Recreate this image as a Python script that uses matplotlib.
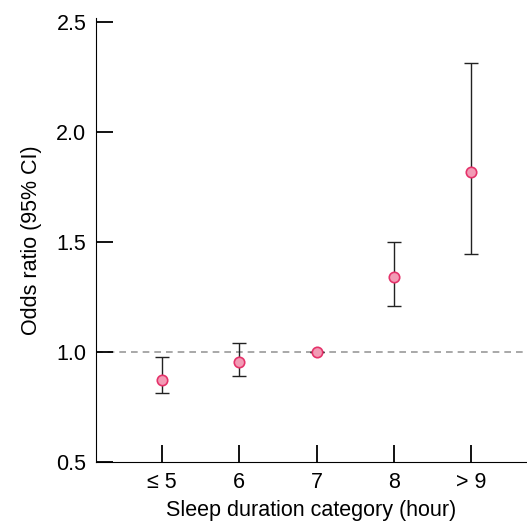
import numpy as np
import matplotlib.pyplot as plt

plt.rcParams['font.family'] = ['Liberation Sans', 'DejaVu Sans']

categories = ["≤ 5", "6", "7", "8", "> 9"]
odds = [0.875, 0.955, 1.0, 1.342, 1.818]
ci_low = [0.812, 0.891, 1.0, 1.208, 1.447]
ci_high = [0.978, 1.043, 1.0, 1.500, 2.317]

x = np.arange(1, len(categories) + 1)
odds = np.array(odds)
yerr = [odds - np.array(ci_low), np.array(ci_high) - odds]

fig = plt.figure(figsize=(5.27, 5.21), dpi=100)
ax = fig.add_axes([96 / 527, 59 / 521, 431 / 527, 444 / 521])

ax.axhline(1.0, color="#999999", linestyle=(0, (4, 3)), linewidth=1.2, zorder=1)
ax.errorbar(x, odds, yerr=yerr, fmt="none", ecolor="#222222", elinewidth=1,
            capsize=5, capthick=1, zorder=2)
ax.plot(x, odds, "o", markersize=7.5, markerfacecolor="#F29BB5",
        markeredgecolor="#E5336B", markeredgewidth=1.2, zorder=3)

ax.set_xlim(0.15, 5.72)
ax.set_ylim(0.5, 2.52)
ax.set_yticks([0.5, 1.0, 1.5, 2.0, 2.5])
ax.set_xticks(x)
ax.set_xticklabels(categories)
ax.spines['top'].set_visible(False)
ax.spines['right'].set_visible(False)
ax.tick_params(direction='in', length=12, width=1.3, labelsize=15.5, pad=7)
ax.set_xlabel("Sleep duration category (hour)", fontsize=15.5, labelpad=5)
ax.set_ylabel("Odds ratio (95% CI)", fontsize=15.5, labelpad=10)

fig.savefig("out.png", dpi=100)
